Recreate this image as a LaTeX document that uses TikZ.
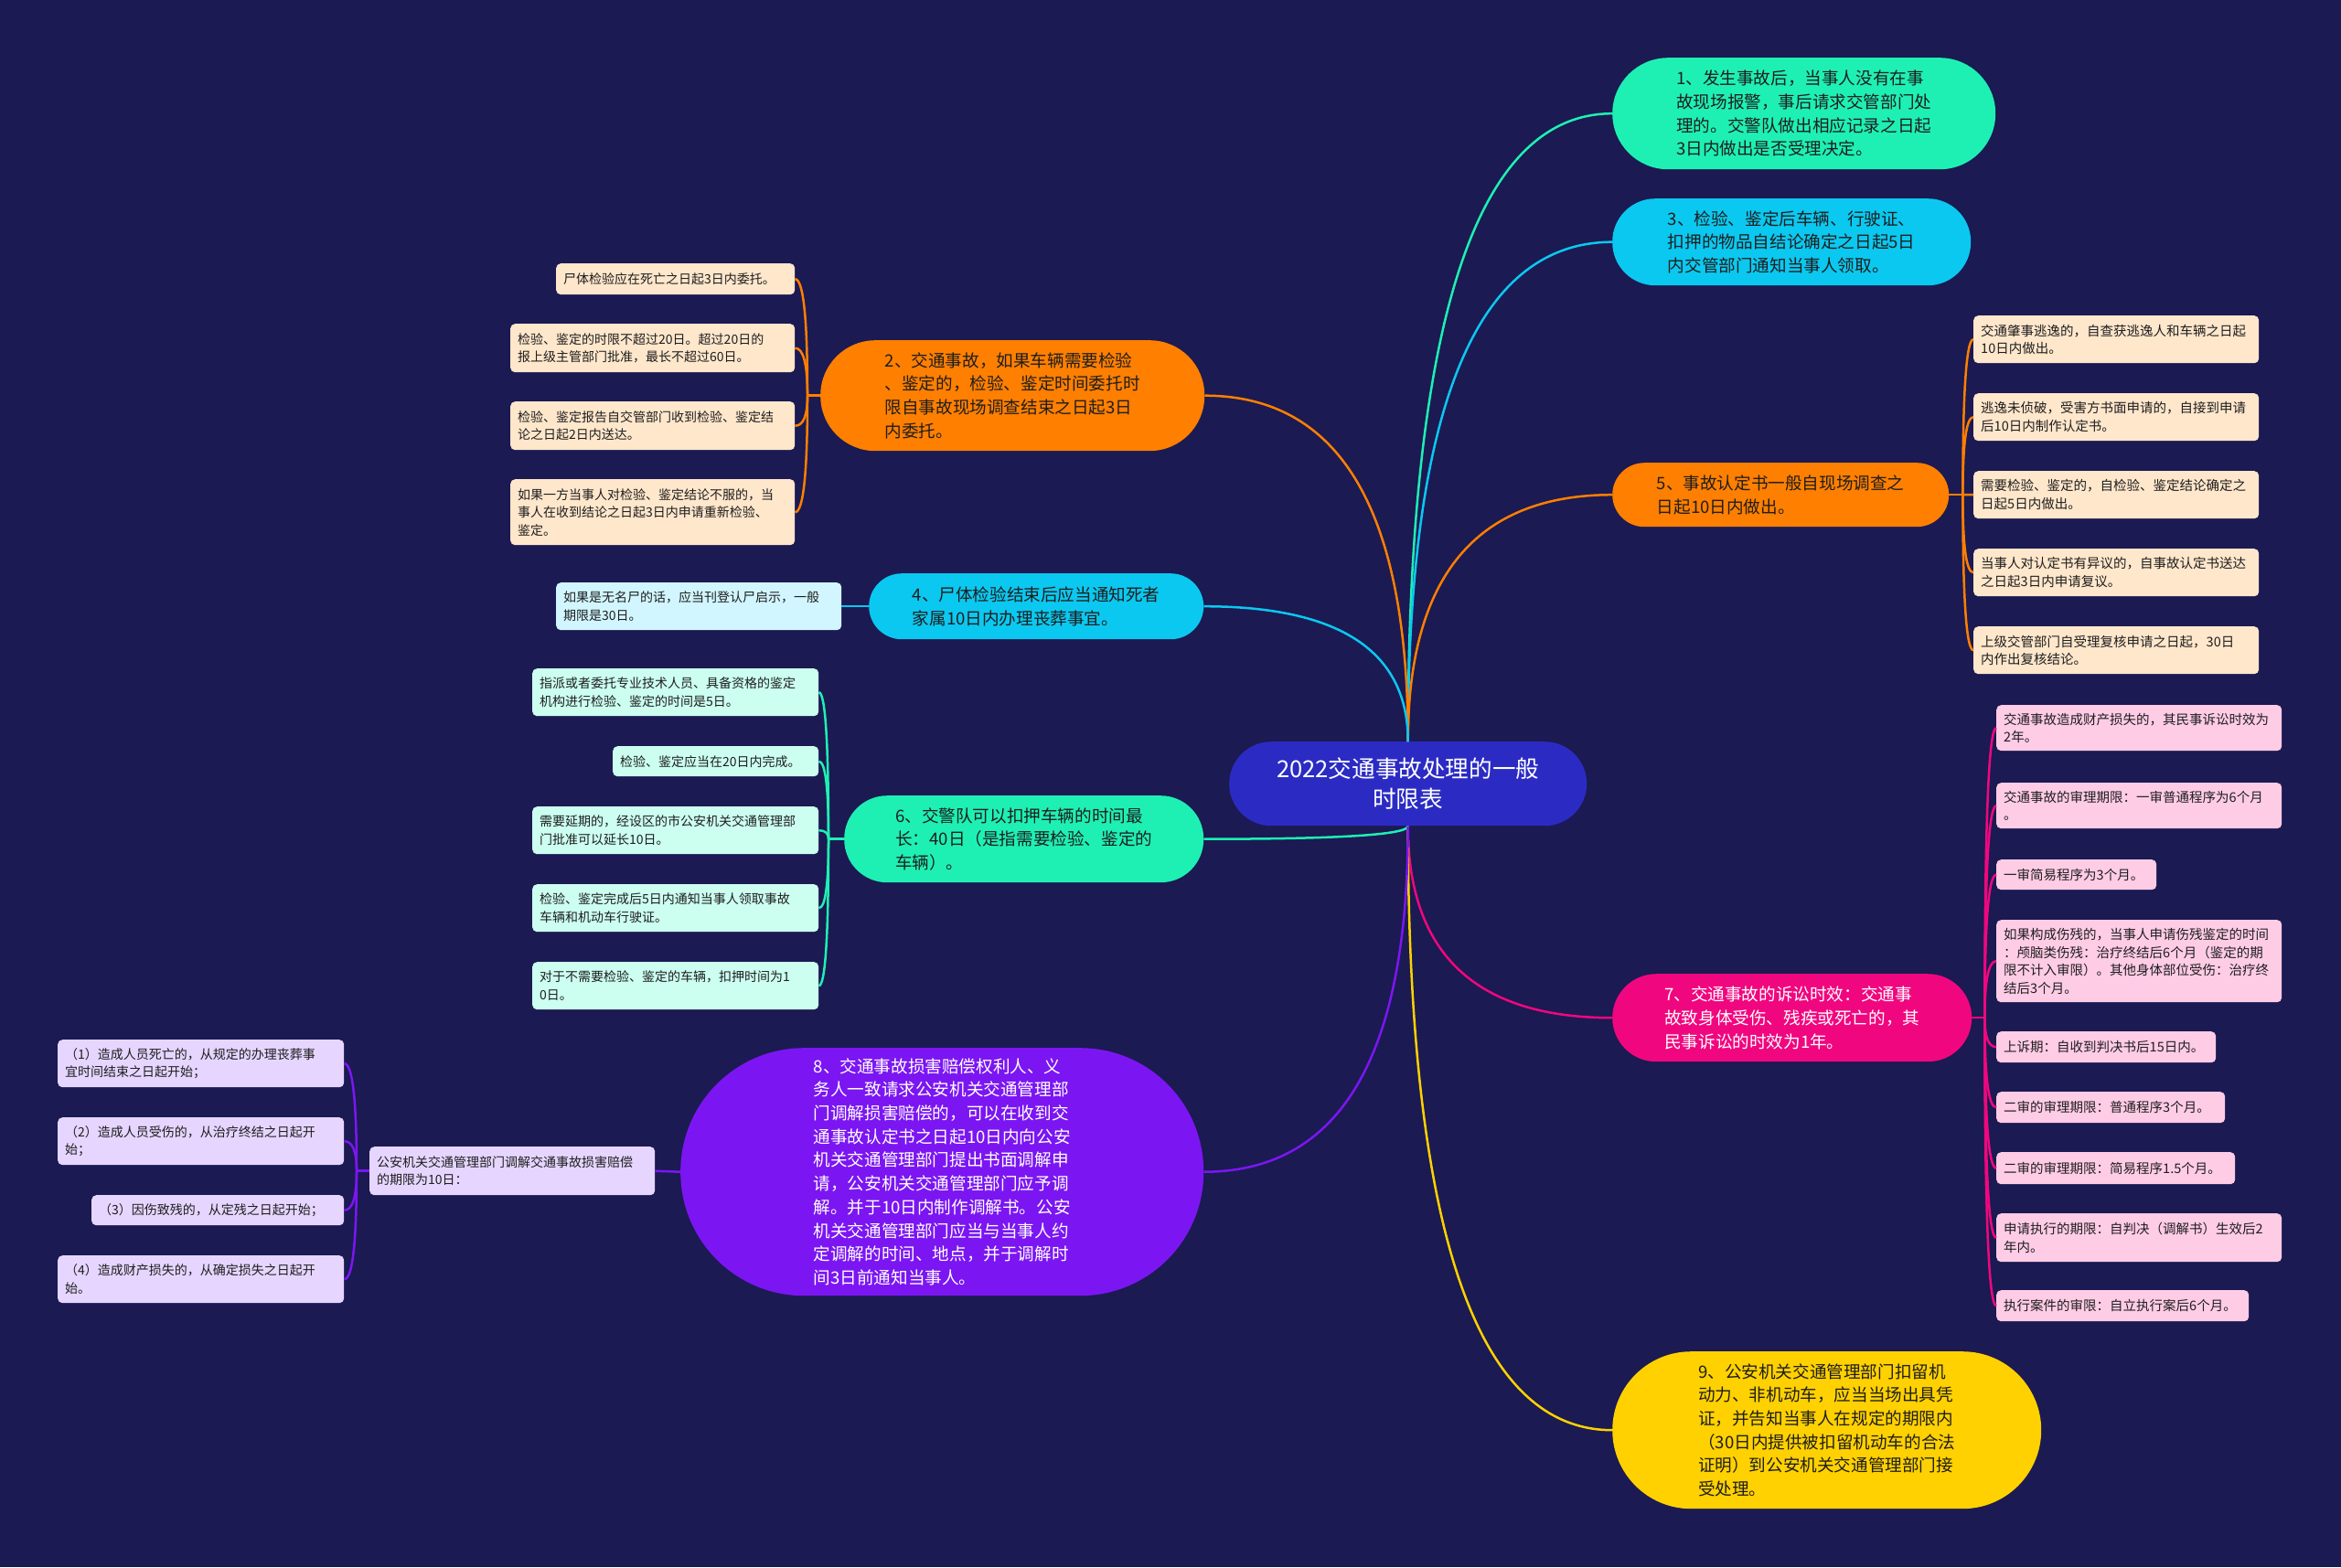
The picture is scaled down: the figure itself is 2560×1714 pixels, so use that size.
\documentclass[tikz,border=0pt]{standalone}
\usepackage{fontspec}
\setmainfont{Noto Sans CJK SC}
\usetikzlibrary{calc}
\definecolor{bg}{HTML}{1B1A52}
\definecolor{cGreen}{HTML}{1EF0B4}
\definecolor{cCyan}{HTML}{0BC8F0}
\definecolor{cOrange}{HTML}{FF7F00}
\definecolor{cPink}{HTML}{F0077F}
\definecolor{cPurple}{HTML}{7B16F2}
\definecolor{cYellow}{HTML}{FFD100}
\definecolor{cCenter}{HTML}{2B2BC4}
\definecolor{lOrange}{HTML}{FFE7CC}
\definecolor{lCyan}{HTML}{D2F6FF}
\definecolor{lMint}{HTML}{CCFFF0}
\definecolor{lPink}{HTML}{FFCCE6}
\definecolor{lLav}{HTML}{E6D6FF}
\definecolor{dk}{HTML}{1E1E1E}
\definecolor{leaftext}{HTML}{1E1E1E}
\newcommand\fmain{\fontsize{18.6}{25.7}\selectfont}
\newcommand\fcenter{\fontsize{25.6}{33}\selectfont}
\newcommand\fleaf{\fontsize{14}{19.5}\selectfont}
\newcommand\fleafr{\fontsize{14.5}{19.5}\selectfont}
\newcommand\qlink[3]{%
  \coordinate (qk) at (#2 |- #3);
  \draw[#1] (#2) .. controls ($(#2)!0.667!(qk)$) and ($(#3)!0.667!(qk)$) .. (#3);}
\tikzset{
  mainnode/.style={inner sep=0pt, align=left, font=\fmain, anchor=north west},
  leaf/.style={inner xsep=8pt, inner ysep=0pt, align=left, font=\fleaf, anchor=north west, rounded corners=5pt, text=leaftext},
  leafr/.style={leaf, font=\fleafr},
  link/.style={line width=2.5pt},
}
\begin{document}
\begin{tikzpicture}[x=1pt,y=-1pt]
\useasboundingbox (0,0) rectangle (2560,1714);
\fill[bg] (0,0) rectangle (2560,1714);

% center
\node[mainnode, font=\fcenter, align=center, fill=cCenter, text=white, minimum width=391pt, minimum height=92pt, rounded corners=46pt] (ctr) at (1344,811) {2022交通事故处理的一般\\时限表};

% main branches right
\node[mainnode, fill=cGreen, text=dk, minimum width=419pt, minimum height=122pt, rounded corners=61pt] (n1) at (1763,63) {1、发生事故后，当事人没有在事\\故现场报警，事后请求交管部门处\\理的。交警队做出相应记录之日起\\3日内做出是否受理决定。};
\node[mainnode, fill=cCyan, text=dk, minimum width=392pt, minimum height=95pt, rounded corners=47pt] (n3) at (1763,217) {3、检验、鉴定后车辆、行驶证、\\扣押的物品自结论确定之日起5日\\内交管部门通知当事人领取。};
\node[mainnode, fill=cOrange, text=dk, minimum width=368pt, minimum height=70pt, rounded corners=35pt] (n5) at (1763,506) {5、事故认定书一般自现场调查之\\日起10日内做出。};
\node[mainnode, fill=cPink, text=white, minimum width=393pt, minimum height=96pt, rounded corners=48pt] (n7) at (1763,1065) {7、交通事故的诉讼时效：交通事\\故致身体受伤、残疾或死亡的，其\\民事诉讼的时效为1年。};
\node[mainnode, fill=cYellow, text=dk, minimum width=469pt, minimum height=172pt, rounded corners=86pt] (n9) at (1763,1478) {9、公安机关交通管理部门扣留机\\动力、非机动车，应当当场出具凭\\证，并告知当事人在规定的期限内\\（30日内提供被扣留机动车的合法\\证明）到公安机关交通管理部门接\\受处理。};

% main branches left
\node[mainnode, fill=cOrange, text=dk, minimum width=420pt, minimum height=121pt, rounded corners=60pt] (n2) at (897,372) {2、交通事故，如果车辆需要检验\\、鉴定的，检验、鉴定时间委托时\\限自事故现场调查结束之日起3日\\内委托。};
\node[mainnode, fill=cCyan, text=dk, minimum width=366pt, minimum height=72pt, rounded corners=36pt] (n4) at (950,627) {4、尸体检验结束后应当通知死者\\家属10日内办理丧葬事宜。};
\node[mainnode, fill=cGreen, text=dk, minimum width=393pt, minimum height=95pt, rounded corners=47pt] (n6) at (923,870) {6、交警队可以扣押车辆的时间最\\长：40日（是指需要检验、鉴定的\\车辆）。};
\node[mainnode, fill=cPurple, text=white, minimum width=572pt, minimum height=271pt, rounded corners=135pt] (n8) at (744,1146) {8、交通事故损害赔偿权利人、义\\务人一致请求公安机关交通管理部\\门调解损害赔偿的，可以在收到交\\通事故认定书之日起10日内向公安\\机关交通管理部门提出书面调解申\\请，公安机关交通管理部门应予调\\解。并于10日内制作调解书。公安\\机关交通管理部门应当与当事人约\\定调解的时间、地点，并于调解时\\间3日前通知当事人。};

% leaves of n2
\node[leaf, fill=lOrange, text width=245pt, minimum height=34pt] (l2a) at (608,288) {尸体检验应在死亡之日起3日内委托。};
\node[leaf, fill=lOrange, text width=295pt, minimum height=53pt] (l2b) at (558,354) {检验、鉴定的时限不超过20日。超过20日的\\报上级主管部门批准，最长不超过60日。};
\node[leaf, fill=lOrange, text width=295pt, minimum height=53pt] (l2c) at (558,439) {检验、鉴定报告自交管部门收到检验、鉴定结\\论之日起2日内送达。};
\node[leaf, fill=lOrange, text width=295pt, minimum height=72pt] (l2d) at (558,524) {如果一方当事人对检验、鉴定结论不服的，当\\事人在收到结论之日起3日内申请重新检验、\\鉴定。};
% leaf of n4
\node[leaf, fill=lCyan, text width=296pt, minimum height=52pt] (l4a) at (608,637) {如果是无名尸的话，应当刊登认尸启示，一般\\期限是30日。};
% leaves of n6
\node[leaf, fill=lMint, text width=297pt, minimum height=52pt] (l6a) at (582,731) {指派或者委托专业技术人员、具备资格的鉴定\\机构进行检验、鉴定的时间是5日。};
\node[leaf, fill=lMint, text width=209pt, minimum height=33pt] (l6b) at (670,816) {检验、鉴定应当在20日内完成。};
\node[leaf, fill=lMint, text width=297pt, minimum height=52pt] (l6c) at (582,882) {需要延期的，经设区的市公安机关交通管理部\\门批准可以延长10日。};
\node[leaf, fill=lMint, text width=297pt, minimum height=52pt] (l6d) at (582,967) {检验、鉴定完成后5日内通知当事人领取事故\\车辆和机动车行驶证。};
\node[leaf, fill=lMint, text width=297pt, minimum height=52pt] (l6e) at (582,1052) {对于不需要检验、鉴定的车辆，扣押时间为1\\0日。};
% leaves of n8
\node[leaf, fill=lLav, text width=296pt, minimum height=53pt] (l8) at (404,1254) {公安机关交通管理部门调解交通事故损害赔偿\\的期限为10日：};
\node[leaf, fill=lLav, text width=297pt, minimum height=52pt] (l8a) at (63,1137) {（1）造成人员死亡的，从规定的办理丧葬事\\宜时间结束之日起开始；};
\node[leaf, fill=lLav, text width=297pt, minimum height=52pt] (l8b) at (63,1222) {（2）造成人员受伤的，从治疗终结之日起开\\始；};
\node[leaf, fill=lLav, text width=260pt, minimum height=33pt] (l8c) at (100,1307) {（3）因伤致残的，从定残之日起开始；};
\node[leaf, fill=lLav, text width=297pt, minimum height=52pt] (l8d) at (63,1373) {（4）造成财产损失的，从确定损失之日起开\\始。};
% leaves of n5
\node[leafr, fill=lOrange, text width=296pt, minimum height=52pt] (r5a) at (2158,345) {交通肇事逃逸的，自查获逃逸人和车辆之日起\\10日内做出。};
\node[leafr, fill=lOrange, text width=296pt, minimum height=52pt] (r5b) at (2158,430) {逃逸未侦破，受害方书面申请的，自接到申请\\后10日内制作认定书。};
\node[leafr, fill=lOrange, text width=296pt, minimum height=52pt] (r5c) at (2158,515) {需要检验、鉴定的，自检验、鉴定结论确定之\\日起5日内做出。};
\node[leafr, fill=lOrange, text width=296pt, minimum height=52pt] (r5d) at (2158,600) {当事人对认定书有异议的，自事故认定书送达\\之日起3日内申请复议。};
\node[leafr, fill=lOrange, text width=296pt, minimum height=52pt] (r5e) at (2158,685) {上级交管部门自受理复核申请之日起，30日\\内作出复核结论。};
% leaves of n7
\node[leafr, fill=lPink, text width=296pt, minimum height=50pt] (r7a) at (2183,771) {交通事故造成财产损失的，其民事诉讼时效为\\2年。};
\node[leafr, fill=lPink, text width=296pt, minimum height=50pt] (r7b) at (2183,856) {交通事故的审理期限：一审普通程序为6个月\\。};
\node[leafr, fill=lPink, text width=159pt, minimum height=33pt] (r7c) at (2183,940) {一审简易程序为3个月。};
\node[leafr, fill=lPink, text width=296pt, minimum height=90pt] (r7d) at (2183,1006) {如果构成伤残的，当事人申请伤残鉴定的时间\\：颅脑类伤残：治疗终结后6个月（鉴定的期\\限不计入审限）。其他身体部位受伤：治疗终\\结后3个月。};
\node[leafr, fill=lPink, text width=224pt, minimum height=34pt] (r7e) at (2183,1128) {上诉期：自收到判决书后15日内。};
\node[leafr, fill=lPink, text width=234pt, minimum height=34pt] (r7f) at (2183,1194) {二审的审理期限：普通程序3个月。};
\node[leafr, fill=lPink, text width=245pt, minimum height=35pt] (r7g) at (2183,1260) {二审的审理期限：简易程序1.5个月。};
\node[leafr, fill=lPink, text width=296pt, minimum height=53pt] (r7h) at (2183,1327) {申请执行的期限：自判决（调解书）生效后2\\年内。};
\node[leafr, fill=lPink, text width=260pt, minimum height=34pt] (r7i) at (2183,1411) {执行案件的审限：自立执行案后6个月。};

% main links
\qlink{link, cGreen}{ctr.north}{n1.west}
\qlink{link, cCyan}{ctr.north}{n3.west}
\qlink{link, cOrange}{ctr.north}{n5.west}
\qlink{link, cPink}{ctr.south}{n7.west}
\qlink{link, cYellow}{ctr.south}{n9.west}
\qlink{link, cOrange}{ctr.north}{n2.east}
\qlink{link, cCyan}{ctr.north}{n4.east}
\qlink{link, cGreen}{ctr.south}{n6.east}
\qlink{link, cPurple}{ctr.south}{n8.east}

% junctions
\coordinate (j2) at ([xshift=-14pt]n2.west);
\coordinate (j6) at ([xshift=-17pt]n6.west);
\coordinate (j8) at ([xshift=-14pt]l8.west);
\coordinate (j5) at ([xshift=15pt]n5.east);
\coordinate (j7) at ([xshift=14pt]n7.east);

\draw[link, cOrange] (n2.west) -- (j2);
\foreach \l in {l2a,l2b,l2c,l2d}{\qlink{link, cOrange}{j2}{\l.east}}
\draw[link, cCyan] (n4.west) -- (l4a.east);
\draw[link, cGreen] (n6.west) -- (j6);
\foreach \l in {l6a,l6b,l6c,l6d,l6e}{\qlink{link, cGreen}{j6}{\l.east}}
\draw[link, cPurple] (n8.west) -- (l8.east);
\draw[link, cPurple] (l8.west) -- (j8);
\foreach \l in {l8a,l8b,l8c,l8d}{\qlink{link, cPurple}{j8}{\l.east}}
\draw[link, cOrange] (n5.east) -- (j5);
\foreach \l in {r5a,r5b,r5c,r5d,r5e}{\qlink{link, cOrange}{j5}{\l.west}}
\draw[link, cPink] (n7.east) -- (j7);
\foreach \l in {r7a,r7b,r7c,r7d,r7e,r7f,r7g,r7h,r7i}{\qlink{link, cPink}{j7}{\l.west}}
\end{tikzpicture}
\end{document}
